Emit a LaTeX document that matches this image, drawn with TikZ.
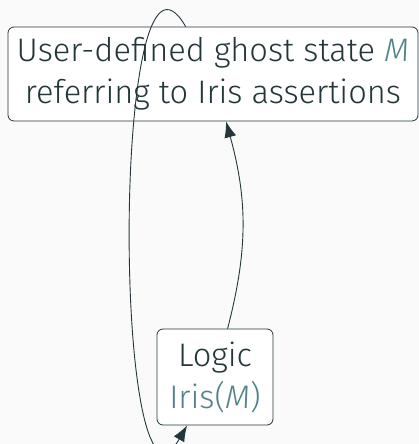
\documentclass[tikz,border=0pt]{standalone}
\usepackage{fontspec}
\setmainfont{Fira Sans Light}
\usetikzlibrary{arrows.meta}
\definecolor{mdark}{HTML}{23373B}
\definecolor{mlight}{HTML}{52828A}
\definecolor{mbg}{HTML}{FAFAFA}
\begin{document}
\begin{tikzpicture}[x=1pt,y=1pt,
  box/.style={draw=mdark, fill=white, line width=0.8pt, rounded corners=6pt,
    align=center, text=mdark, inner sep=0pt, font=\fontsize{32.6}{42}\selectfont},
  conn/.style={draw=mdark, line width=0.9pt, -{Latex[length=16pt,width=12pt]}}]
\fill[mbg] (0,0) rectangle (419,444);
\useasboundingbox (0,0) rectangle (419,444);
\node[box, minimum width=410pt, minimum height=94pt] (top) at (213,370)
  {User-defined ghost state \textcolor{mlight}{\itshape M}\\referring to Iris assertions};
\node[box, minimum width=116pt, minimum height=96pt] (logic) at (215,67)
  {Logic\\\textcolor{mlight}{Iris(\textit{M})}};
\draw[conn] (logic) to[bend right=15] (top);
\draw[conn] (top) to[out=120, in=-120, distance=150pt] (logic);
\end{tikzpicture}
\end{document}
